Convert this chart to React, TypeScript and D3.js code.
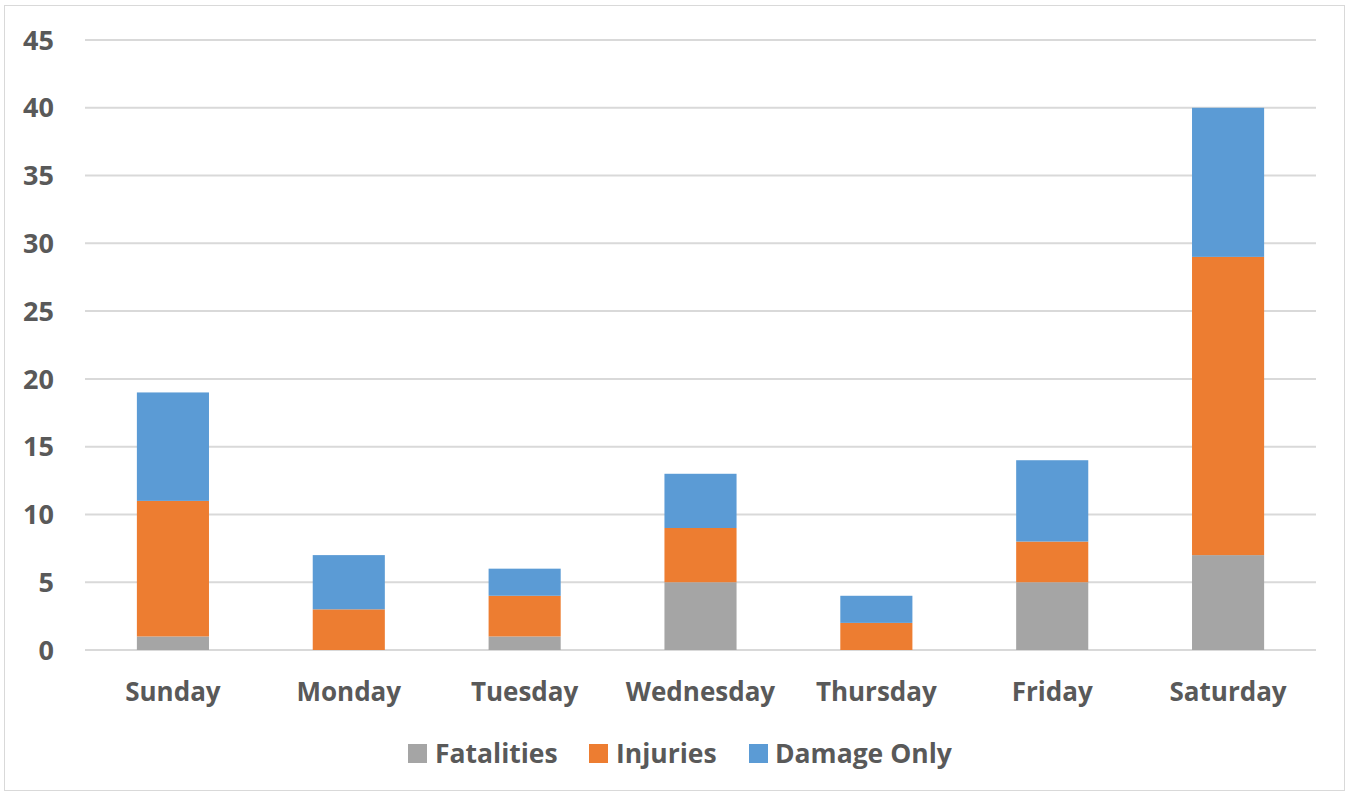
import React from "react";
import * as d3 from "d3";

const categories = ["Sunday", "Monday", "Tuesday", "Wednesday", "Thursday", "Friday", "Saturday"];
const fatalities = [1, 0, 1, 5, 0, 5, 7];
const injuries = [10, 3, 3, 4, 2, 3, 22];
const damageOnly = [8, 4, 2, 4, 2, 6, 11];
const seriesNames = ["Fatalities", "Injuries", "Damage Only"];
const seriesColors = ["#A5A5A5", "#ED7D31", "#5B9BD5"];
const yTicks = [0, 5, 10, 15, 20, 25, 30, 35, 40, 45];

const W = 1348, H = 792;
const left = 85, right = 1316, top = 40, bottom = 650;
const font = "'Open Sans', sans-serif";

export default function App() {
  const x = d3.scaleBand().domain(categories).range([left, right]).paddingInner(0.59).paddingOuter(0.295);
  const y = d3.scaleLinear().domain([0, 45]).range([bottom, top]);
  const rows = categories.map((c, i) => ({ cat: c, f: fatalities[i], inj: injuries[i], d: damageOnly[i] }));
  const stack = d3.stack<any>().keys(["f", "inj", "d"])(rows);

  const legendItems = [
    { sx: 408, tx: 435 },
    { sx: 589, tx: 616 },
    { sx: 749, tx: 775 },
  ];

  return (
    <svg width={W} height={H} style={{ position: "absolute", left: 0, top: 0, background: "#fff" }}>
      <rect x={4.5} y={5.5} width={1340} height={785} fill="#fff" stroke="#D9D9D9" strokeWidth={1} />
      {yTicks.map((t) => (
        <g key={t}>
          <line x1={left} x2={right} y1={y(t)} y2={y(t)} stroke="#D9D9D9" strokeWidth={2} />
          <text x={54} y={y(t)} dy="0.36em" textAnchor="end" fontFamily={font} fontWeight={700} fontSize={27} fill="#595959">{t}</text>
        </g>
      ))}
      {stack.map((s, si) => (
        <g key={si} fill={seriesColors[si]}>
          {s.map((p, i) => (
            p[1] - p[0] > 0 ? (
              <rect key={i} x={x(categories[i])} width={x.bandwidth()} y={y(p[1])} height={y(p[0]) - y(p[1])} />
            ) : null
          ))}
        </g>
      ))}
      {categories.map((c) => (
        <text key={c} x={(x(c) as number) + x.bandwidth() / 2} y={692} dy="0.36em" textAnchor="middle" fontFamily={font} fontWeight={700} fontSize={26} fill="#595959">{c}</text>
      ))}
      {seriesNames.map((n, i) => (
        <g key={n}>
          <rect x={legendItems[i].sx} y={744} width={19} height={19} fill={seriesColors[i]} />
          <text x={legendItems[i].tx} y={753} dy="0.36em" fontFamily={font} fontWeight={700} fontSize={26.5} fill="#595959">{n}</text>
        </g>
      ))}
    </svg>
  );
}
